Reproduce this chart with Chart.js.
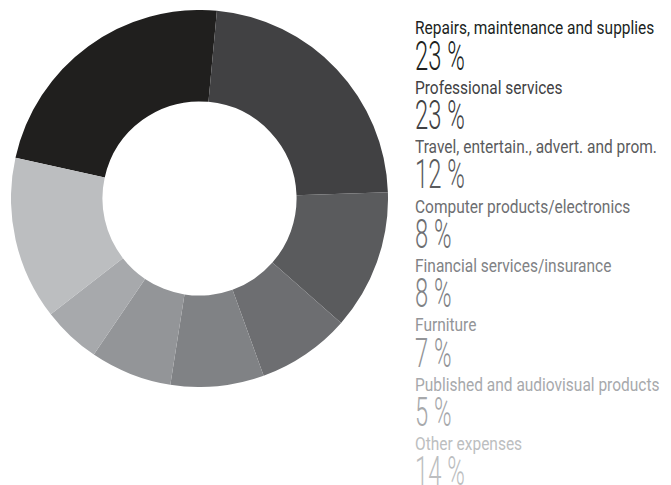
<!DOCTYPE html>
<html>
<head>
<meta charset="utf-8">
<script src="https://cdn.jsdelivr.net/npm/chart.js@4/dist/chart.umd.min.js"></script>
<style>
  body {
    margin: 0;
    background: #fff;
    width: 671px;
    height: 485px;
    overflow: hidden;
    position: relative;
    font-family: Roboto, "Liberation Sans", sans-serif;
  }
  #donutWrap { position: absolute; left: 11px; top: 9.5px; width: 377px; height: 377px; }
  #legend { position: absolute; left: 415px; top: 0; }
  .label, .pct {
    position: absolute;
    left: 0;
    white-space: nowrap;
    line-height: 1;
    transform-origin: 0 0;
  }
  .label { font-size: 17.5px; transform: scaleX(0.885); }
  .pct { font-size: 41px; font-weight: 300; transform: scaleX(0.58); }
</style>
</head>
<body>
<div id="donutWrap"><canvas id="costChart"></canvas></div>
<div id="legend"></div>

<script>
const categories = [
  "Repairs, maintenance and supplies",
  "Professional services",
  "Travel, entertain., advert. and prom.",
  "Computer products/electronics",
  "Financial services/insurance",
  "Furniture",
  "Published and audiovisual products",
  "Other expenses"
];
const shares = [23, 23, 12, 8, 8, 7, 5, 14];
const shades = ["#201f1e", "#414143", "#5a5b5d", "#6d6e71", "#808285", "#939598", "#a7a9ac", "#bcbec0"];

// Donut
new Chart(document.getElementById("costChart"), {
  type: "doughnut",
  data: {
    labels: categories,
    datasets: [{
      data: shares,
      backgroundColor: shades,
      borderWidth: 0,
      hoverOffset: 0
    }]
  },
  options: {
    responsive: true,
    maintainAspectRatio: false,
    animation: false,
    events: [],
    rotation: -77.5,
    cutout: "51.5%",
    layout: { padding: 0 },
    plugins: {
      legend: { display: false },
      tooltip: { enabled: false }
    }
  }
});

// Legend on the right: label + big percentage per category
const legend = document.getElementById("legend");
const rowStep = 59.4;
categories.forEach((name, i) => {
  const label = document.createElement("div");
  label.className = "label";
  label.textContent = name;
  label.style.color = shades[i];
  label.style.top = (20.3 + rowStep * i) + "px";
  legend.appendChild(label);

  const pct = document.createElement("div");
  pct.className = "pct";
  pct.textContent = shares[i] + " %";
  pct.style.color = shades[i];
  pct.style.top = (35.5 + rowStep * i) + "px";
  legend.appendChild(pct);
});
</script>
</body>
</html>
